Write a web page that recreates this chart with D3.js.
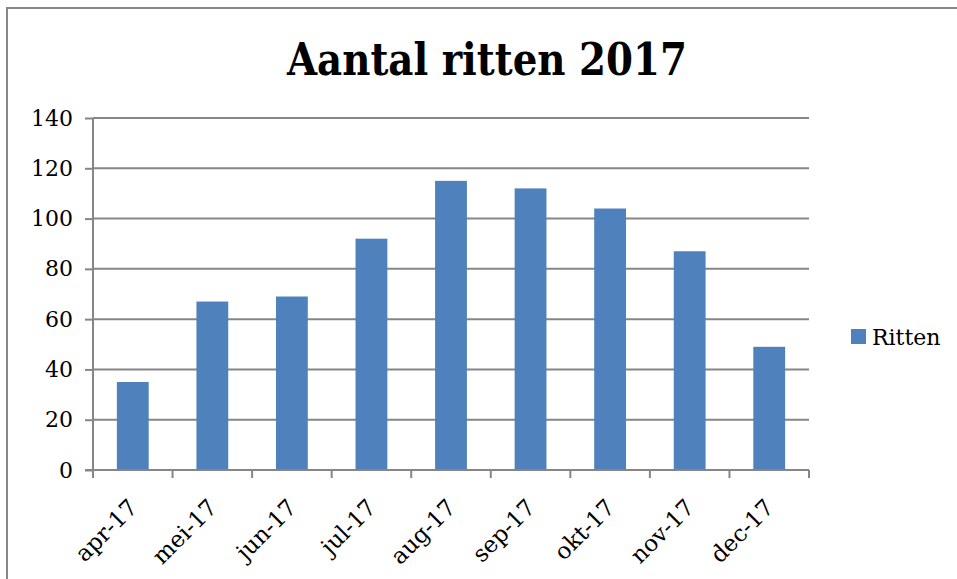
<!DOCTYPE html>
<meta charset="utf-8">
<style>
body { margin: 0; background: #fff; }
text { font-family: "DejaVu Serif", "Liberation Serif", serif; fill: #000; }
.axis path, .axis line { stroke: #868686; }
</style>
<body>
<script src="https://d3js.org/d3.v7.min.js"></script>
<script>

var months = ["apr-17", "mei-17", "jun-17", "jul-17", "aug-17", "sep-17", "okt-17", "nov-17", "dec-17"];
var ritten = [35, 67, 69, 92, 115, 112, 104, 87, 49];
var yTicks = [0, 20, 40, 60, 80, 100, 120, 140];

var width = 957,
    height = 579,
    plotLeft = 93, plotRight = 809, plotTop = 118, plotBottom = 470;

var svg = d3.select("body").append("svg")
    .attr("width", width)
    .attr("height", height);

// outer frame
svg.append("rect")
    .attr("x", 7).attr("y", 8)
    .attr("width", 960).attr("height", 600)
    .attr("fill", "none")
    .attr("stroke", "#878787")
    .attr("stroke-width", 2);

svg.append("text")
    .attr("x", 487).attr("y", 75)
    .attr("text-anchor", "middle")
    .style("font-weight", "bold")
    .style("font-size", "44px")
    .attr("textLength", 400)
    .attr("lengthAdjust", "spacingAndGlyphs")
    .text("Aantal ritten 2017");

var x = d3.scaleBand()
    .domain(months)
    .range([plotLeft, plotRight])
    .paddingInner(0.6)
    .paddingOuter(0.3);

var xOuter = d3.scaleBand().domain(months).range([plotLeft, plotRight]);

var y = d3.scaleLinear()
    .domain([0, 140])
    .range([plotBottom, plotTop]);

// gridlines
svg.append("g")
    .selectAll("line")
    .data(yTicks.slice(1))
  .enter().append("line")
    .attr("x1", plotLeft).attr("x2", plotRight)
    .attr("y1", function(d) { return y(d); })
    .attr("y2", function(d) { return y(d); })
    .attr("stroke", "#868686")
    .attr("stroke-width", 2);

// y axis
var yAxis = svg.append("g")
    .attr("class", "axis")
    .attr("transform", "translate(" + plotLeft + ",0)")
    .call(d3.axisLeft(y).tickValues(yTicks).tickSize(8).tickPadding(12));
yAxis.select(".domain").attr("stroke-width", 2).attr("d", "M0," + plotTop + "V" + plotBottom);
yAxis.selectAll("line").attr("stroke-width", 2);
yAxis.selectAll("text")
    .style("font-size", "22px")
    .style("font-family", "'DejaVu Serif', serif")
    .attr("fill", "#000");

// bars
svg.append("g")
    .selectAll("rect")
    .data(ritten)
  .enter().append("rect")
    .attr("x", function(d, i) { return x(months[i]); })
    .attr("y", function(d) { return y(d); })
    .attr("width", x.bandwidth())
    .attr("height", function(d) { return y(0) - y(d); })
    .attr("fill", "#4F81BD");

// x axis with ticks between categories
var xTickPos = months.map(function(m) { return xOuter(m); }).concat([plotRight]);
var xAxis = svg.append("g").attr("class", "axis");
xAxis.append("line")
    .attr("x1", plotLeft - 8).attr("x2", plotRight)
    .attr("y1", plotBottom).attr("y2", plotBottom)
    .attr("stroke-width", 2);
xAxis.selectAll(".tk")
    .data(xTickPos)
  .enter().append("line")
    .attr("class", "tk")
    .attr("x1", function(d) { return d; }).attr("x2", function(d) { return d; })
    .attr("y1", plotBottom).attr("y2", plotBottom + 8)
    .attr("stroke-width", 2);

svg.append("g")
    .selectAll("text")
    .data(months)
  .enter().append("text")
    .attr("text-anchor", "end")
    .style("font-size", "23px")
    .attr("transform", function(d) {
      return "translate(" + (xOuter(d) + xOuter.bandwidth() / 2 + 6) + "," + (plotBottom + 39) + ") rotate(-45)";
    })
    .text(function(d) { return d; });

// legend
var legend = svg.append("g");
legend.append("rect")
    .attr("x", 851).attr("y", 329)
    .attr("width", 15).attr("height", 15)
    .attr("fill", "#4F81BD");
legend.append("text")
    .attr("x", 872).attr("y", 345)
    .style("font-size", "22px")
    .text("Ritten");

</script>
